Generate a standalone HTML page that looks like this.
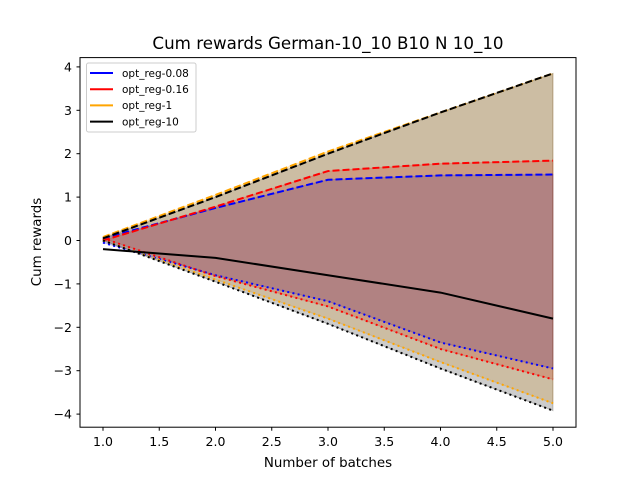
<!DOCTYPE html>
<html><head><meta charset="utf-8"><style>body{margin:0;background:#fff}svg{display:block;font-family:"DejaVu Sans","Liberation Sans",sans-serif}</style></head>
<body>
<svg id="chart" width="640" height="480">
<rect width="640" height="480" fill="#fff"/>
<g id="plot"></g>
<rect x="80" y="57.6" width="496" height="369.6" fill="none" stroke="#000" stroke-width="1"/>
<g id="ticks"></g>
<text x="328" y="49" font-size="16.7" text-anchor="middle">Cum rewards German-10_10 B10 N 10_10</text>
<text x="328" y="467" font-size="13.4" text-anchor="middle">Number of batches</text>
<text x="0" y="0" font-size="13.4" text-anchor="middle" transform="translate(41,242) rotate(-90)">Cum rewards</text>
<g>
<rect x="86.5" y="63" width="109.5" height="69" rx="2" fill="#fff" fill-opacity="0.8" stroke="#ccc"/>
<g id="legend"></g>
</g>
</svg>
<script>
const xs=[1,2,3,4,5];
const names=["opt_reg-0.08","opt_reg-0.16","opt_reg-1","opt_reg-10"];
const colors=["blue","red","orange","black"];
const upper0=[0.05,0.75,1.4,1.5,1.52];
const lower0=[-0.05,-0.8,-1.4,-2.35,-2.95];
const upper1=[0.0,0.78,1.6,1.77,1.84];
const lower1=[0.05,-0.82,-1.52,-2.5,-3.2];
const upper2=[0.08,1.05,2.05,2.95,3.85];
const lower2=[0.0,-0.9,-1.8,-2.8,-3.75];
const upper3=[0.05,1.0,2.0,2.95,3.85];
const lower3=[0.0,-0.95,-1.92,-2.95,-3.92];
const mean3=[-0.2,-0.4,-0.8,-1.2,-1.8];
const xTicks=[1.0,1.5,2.0,2.5,3.0,3.5,4.0,4.5,5.0];
const yTicks=[-4,-3,-2,-1,0,1,2,3,4];
const NS="http://www.w3.org/2000/svg";
const X=v=>103+(v-1)*112.5;
const Y=v=>240.5-v*43.4;
function mk(tag,attrs,parent){const e=document.createElementNS(NS,tag);for(const k in attrs)e.setAttribute(k,attrs[k]);parent.appendChild(e);return e;}
const plot=document.getElementById('plot');
const ups=[upper0,upper1,upper2,upper3],los=[lower0,lower1,lower2,lower3];
for(let i=0;i<4;i++){
 const pts=xs.map((x,j)=>X(x)+','+Y(ups[i][j])).concat(xs.slice().reverse().map((x,j)=>X(x)+','+Y(los[i][xs.length-1-j])));
 const p=mk('polygon',{points:pts.join(' '),fill:colors[i],'fill-opacity':0.2,stroke:colors[i],'stroke-opacity':0.2},plot);
 
 
}
for(let i=0;i<4;i++){
 const u=mk('polyline',{points:xs.map((x,j)=>X(x)+','+Y(ups[i][j])).join(' '),fill:'none',stroke:colors[i],'stroke-width':2,'stroke-dasharray':'7,3'},plot);
 
 
 const l=mk('polyline',{points:xs.map((x,j)=>X(x)+','+Y(los[i][j])).join(' '),fill:'none',stroke:colors[i],'stroke-width':2,'stroke-dasharray':'2,3.3'},plot);
 
 
}
const m=mk('polyline',{points:xs.map((x,j)=>X(x)+','+Y(mean3[j])).join(' '),fill:'none',stroke:'black','stroke-width':2},plot);


const tk=document.getElementById('ticks');
xTicks.forEach(v=>{
 const l=mk('line',{x1:X(v),x2:X(v),y1:427.2,y2:430.7,stroke:'#000'},tk);
 
 
 const t=mk('text',{x:X(v),y:446,'font-size':12.5,'text-anchor':'middle'},tk);t.textContent=v.toFixed(1);
 
 
});
yTicks.forEach(v=>{
 const l=mk('line',{x1:76.5,x2:80,y1:Y(v),y2:Y(v),stroke:'#000'},tk);
 
 
 const t=mk('text',{x:72,y:Y(v)+4.5,'font-size':12.5,'text-anchor':'end'},tk);t.textContent=v<0?'\u2212'+(-v):String(v);
 
 
});
const lg=document.getElementById('legend');
names.forEach((n,i)=>{
 const y=73+i*16.2;
 const l=mk('line',{x1:90,x2:113,y1:y,y2:y,stroke:colors[i],'stroke-width':2},lg);
 
 
 const t=mk('text',{x:122,y:y+3.8,'font-size':10.5},lg);t.textContent=n;
 
 
});
</script>
</body></html>
